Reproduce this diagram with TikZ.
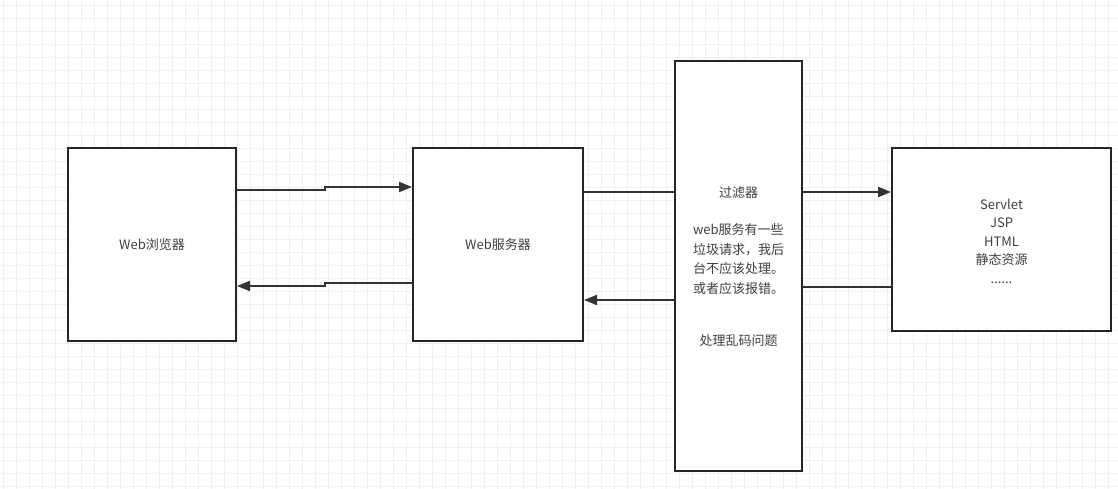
\documentclass[tikz,border=0pt]{standalone}
\usepackage{fontspec}
\setmainfont{Noto Sans CJK SC}
\usetikzlibrary{arrows.meta}
\begin{document}
\begin{tikzpicture}[x=1pt,y=-1pt,
  box/.style={draw=black!85,line width=2pt,fill=white,inner sep=0pt},
  lbl/.style={text=black!75,font=\fontsize{13}{18}\selectfont,align=center},
  con/.style={draw=black!80,line width=2pt},
  arr/.style={con,-{Triangle[length=13pt,width=10pt]}}]
\useasboundingbox (0,0) rectangle (1118,489);
\fill[white] (0,0) rectangle (1118,489);
\foreach \i in {0,...,86} \draw[black!6,line width=0.6pt] (\i*13+3,0) -- (\i*13+3,489);
\foreach \j in {0,...,37} \draw[black!6,line width=0.6pt] (0,\j*13+5) -- (1118,\j*13+5);
\node[box,minimum width=168pt,minimum height=193pt] (b) at (152,244.5) {};
\node[lbl] at (b) {Web浏览器};
\node[box,minimum width=170pt,minimum height=193pt] (s) at (498,244.5) {};
\node[lbl] at (s) {Web服务器};
\node[box,minimum width=127pt,minimum height=410pt] (f) at (738.5,266) {};
\node[lbl] (ft) at (738.5,193) {过滤器};
\node[lbl,align=left,font=\fontsize{13}{19.5}\selectfont] (fd) at (738.5,259) {web服务有一些\\垃圾请求，我后\\台不应该处理。\\或者应该报错。};
\node[lbl] (fe) at (738.5,341) {处理乱码问题};
\node[box,minimum width=219pt,minimum height=183pt] (v) at (1001.5,239.5) {};
\node[lbl,font=\fontsize{13}{18.5}\selectfont] at (1001.5,241) {Servlet\\JSP\\HTML\\静态资源\\......};
\coordinate (c1) at (325,190); \coordinate (c2) at (325,187);
\draw[arr] (b.east |- 0,190) -- (c1) -- (c2) -- (s.west |- 0,187);
\coordinate (c3) at (325,283); \coordinate (c4) at (325,286);
\draw[arr] (s.west |- 0,283) -- (c3) -- (c4) -- (b.east |- 0,286);
\draw[con] (s.east |- 0,192) -- (f.west |- 0,192);
\draw[arr] (f.west |- 0,300) -- (s.east |- 0,300);
\draw[arr] (f.east |- 0,192) -- (v.west |- 0,192);
\draw[con] (v.west |- 0,287) -- (f.east |- 0,287);
\end{tikzpicture}
\end{document}
